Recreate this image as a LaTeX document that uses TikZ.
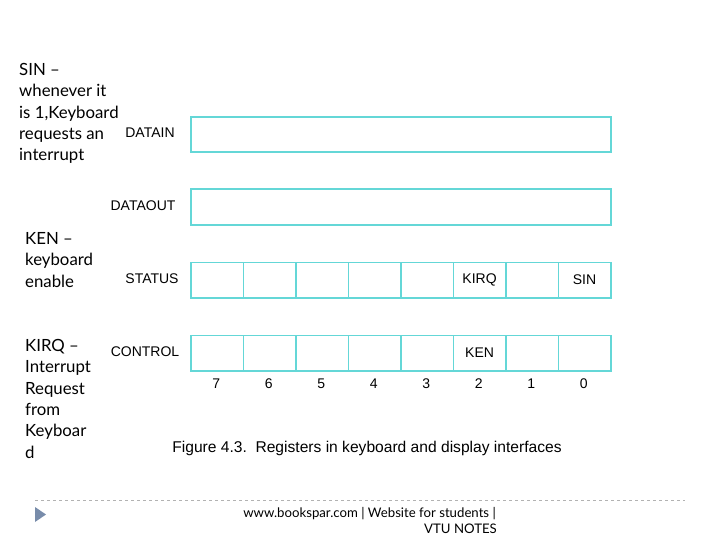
\documentclass[tikz,border=0pt]{standalone}
\usepackage{fontspec}
\setmainfont{Liberation Sans}
\newfontfamily\gill[Ligatures=TeX]{Lato}
\begin{document}
\begin{tikzpicture}[x=1pt,y=-1pt,
  reg/.style={draw=regcol,line width=1.6pt,minimum height=35.5pt,inner sep=0pt,anchor=north west,font=\fontsize{14}{14}\selectfont},
  cell/.style={reg,minimum width=52.5pt},
  lbl/.style={font=\fontsize{14}{14}\selectfont,inner sep=0pt},
  side/.style={font=\gill\fontsize{16.8}{21.4}\selectfont,align=left,anchor=north west,inner sep=0pt},
  foot/.style={font=\gill\fontsize{13.2}{15}\selectfont,inner sep=0pt}]
\definecolor{regcol}{RGB}{100,215,215}
\useasboundingbox (0,0) rectangle (720,540);
% left notes
\node[side] (n1) at (19,63) {SIN –\\whenever it\\is 1,Keyboard\\requests an\\interrupt};
\node[side] (n2) at (25,232) {KEN –\\keyboard\\enable};
\node[side] (n3) at (25,339) {KIRQ –\\Interrupt\\Request\\from\\Keyboar\\d};
% data registers
\node[reg,minimum width=420pt] (din) at (190,116) {};
\node[reg,minimum width=420pt] (dout) at (190,188.5) {};
\node[lbl] (ldin) at (150,133) {DATAIN};
\node[lbl] (ldout) at (143,206) {DATAOUT};
\node[lbl] (lstat) at (152,279) {STATUS};
\node[lbl] (lctrl) at (145,352) {CONTROL};
% status and control cells
\foreach \i in {0,...,7}{
  \pgfmathsetmacro{\xx}{190+52.5*(7-\i)}
  \node[cell] (s\i) at (\xx,261.5) {};
  \node[cell] (c\i) at (\xx,334.5) {};
  \node[lbl] (b\i) at (\xx+26.25,384) {\i};
}
\node[lbl] at (s2) {KIRQ};
\node[lbl] at (s0) {SIN};
\node[lbl] at (c2) {KEN};
% caption
\node[lbl,font=\fontsize{15.6}{15.6}\selectfont] (cap) at (367,448) {Figure 4.3.\ \ Registers in keyboard and display interfaces};
% footer
\draw[gray!60,dashed,line width=0.6pt] (35,500) -- (685,500);
\fill[fill={rgb,255:red,120;green,140;blue,170}] (35,507) -- (46,514.5) -- (35,522) -- cycle;
\node[foot,anchor=east] (f1) at (496,514) {www.bookspar.com | Website for students |};
\node[foot,anchor=east] (f2) at (497,529) {VTU NOTES};
\end{tikzpicture}
\end{document}
